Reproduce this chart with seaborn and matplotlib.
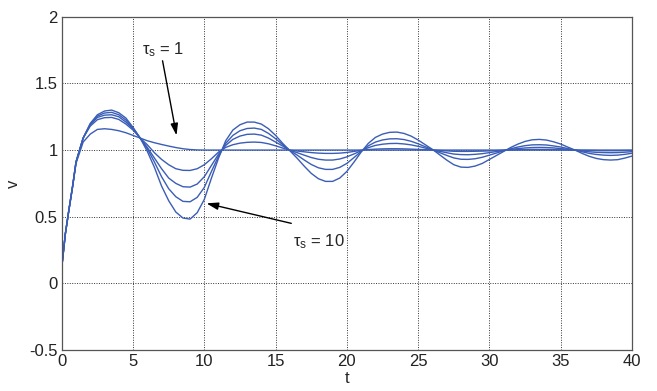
import numpy as np
import pandas as pd
import matplotlib
matplotlib.use("Agg")
import matplotlib.pyplot as plt
from matplotlib.ticker import FuncFormatter
import seaborn as sns

# Sample times
t = np.concatenate([[0.0, 0.25, 0.5, 0.75], np.arange(1.0, 40.01, 0.5)])

# Responses v(t) for the different tau_s values (largest oscillation first)
v_tau10 = [0.12, 0.37, 0.55, 0.72, 0.91, 1.09, 1.20, 1.265, 1.293, 1.30, 1.28, 1.24, 1.17, 1.09,
           0.99, 0.87, 0.73, 0.62, 0.535, 0.49, 0.482, 0.53, 0.63, 0.79, 0.94, 1.07, 1.15, 1.19,
           1.21, 1.21, 1.195, 1.16, 1.11, 1.05, 0.995, 0.94, 0.88, 0.825, 0.785, 0.765, 0.765,
           0.79, 0.84, 0.91, 0.985, 1.05, 1.095, 1.12, 1.133, 1.135, 1.125, 1.105, 1.075, 1.04,
           1.005, 0.965, 0.925, 0.89, 0.872, 0.87, 0.88, 0.90, 0.93, 0.96, 0.99, 1.02, 1.045,
           1.065, 1.077, 1.08, 1.075, 1.062, 1.045, 1.022, 1.0, 0.975, 0.953, 0.937, 0.928,
           0.925, 0.928, 0.94, 0.955]
v_b = [0.12, 0.37, 0.55, 0.72, 0.91, 1.09, 1.195, 1.255, 1.278, 1.283, 1.265, 1.225, 1.165, 1.09,
       1.01, 0.91, 0.80, 0.71, 0.65, 0.615, 0.612, 0.645, 0.72, 0.84, 0.955, 1.05, 1.11, 1.145,
       1.162, 1.165, 1.155, 1.125, 1.085, 1.04, 0.997, 0.963, 0.926, 0.892, 0.867, 0.855, 0.855,
       0.87, 0.90, 0.944, 0.99, 1.032, 1.06, 1.076, 1.084, 1.085, 1.079, 1.066, 1.047, 1.025,
       1.003, 0.981, 0.96, 0.941, 0.931, 0.93, 0.935, 0.946, 0.962, 0.978, 0.995, 1.01, 1.023,
       1.033, 1.039, 1.04, 1.038, 1.031, 1.023, 1.011, 1.0, 0.987, 0.975, 0.967, 0.962, 0.96,
       0.962, 0.968, 0.976]
v_c = [0.12, 0.37, 0.55, 0.72, 0.91, 1.09, 1.19, 1.245, 1.262, 1.265, 1.25, 1.21, 1.16, 1.09,
       1.02, 0.94, 0.86, 0.79, 0.75, 0.725, 0.722, 0.745, 0.80, 0.885, 0.97, 1.035, 1.08, 1.105,
       1.118, 1.12, 1.112, 1.09, 1.06, 1.03, 0.998, 0.981, 0.962, 0.944, 0.931, 0.925, 0.925,
       0.933, 0.949, 0.971, 0.995, 1.018, 1.035, 1.044, 1.049, 1.05, 1.046, 1.039, 1.028, 1.015,
       1.002, 0.991, 0.98, 0.97, 0.966, 0.965, 0.968, 0.973, 0.981, 0.989, 0.997, 1.005, 1.011,
       1.016, 1.019, 1.02, 1.019, 1.016, 1.011, 1.006, 1.0, 0.993, 0.987, 0.983, 0.981, 0.98,
       0.981, 0.984, 0.988]
v_d = [0.12, 0.37, 0.55, 0.72, 0.91, 1.09, 1.18, 1.228, 1.243, 1.245, 1.23, 1.195, 1.15, 1.09,
       1.04, 0.98, 0.93, 0.89, 0.86, 0.848, 0.847, 0.86, 0.89, 0.935, 0.985, 1.02, 1.04, 1.052,
       1.058, 1.06, 1.057, 1.047, 1.032, 1.015, 0.999, 0.993, 0.987, 0.981, 0.977, 0.975, 0.975,
       0.977, 0.982, 0.99, 0.998, 1.004, 1.007, 1.009, 1.01, 1.01, 1.009, 1.007, 1.005, 1.003,
       1.0, 0.997, 0.994, 0.991, 0.99, 0.99, 0.991, 0.992, 0.994, 0.996, 0.999, 1.001, 1.003,
       1.004, 1.005, 1.005, 1.005, 1.004, 1.003, 1.001, 1.0, 0.998, 0.997, 0.996, 0.995, 0.995,
       0.995, 0.996, 0.997]
v_tau1 = [0.12, 0.37, 0.55, 0.72, 0.90, 1.06, 1.12, 1.155, 1.16, 1.155, 1.145, 1.13, 1.11, 1.09,
          1.07, 1.055, 1.042, 1.03, 1.019, 1.01, 1.004, 1.001] + [1.0] * 61

series = {"tau10": v_tau10, "b": v_b, "c": v_c, "d": v_d, "tau1": v_tau1}

x_ticks = [0, 5, 10, 15, 20, 25, 30, 35, 40]
y_ticks = [-0.5, 0, 0.5, 1, 1.5, 2]

df = pd.concat(
    [pd.DataFrame({"t": t, "v": vals, "run": name}) for name, vals in series.items()],
    ignore_index=True,
)

sns.set_style("white")
plt.rcParams["font.family"] = ["Liberation Sans", "DejaVu Sans"]
plt.rcParams["axes.unicode_minus"] = False
plt.rcParams["mathtext.fontset"] = "custom"
plt.rcParams["mathtext.rm"] = "Liberation Sans"
plt.rcParams["mathtext.it"] = "Liberation Sans:italic"

fig = plt.figure(figsize=(6.57, 3.91), dpi=100)
ax = fig.add_axes([0.094, 0.105, 0.868, 0.852])

line_color = "#3a5db6"
sns.lineplot(data=df, x="t", y="v", hue="run", palette=[line_color] * len(series),
             legend=False, ax=ax, linewidth=1.0, sort=False, estimator=None)

ax.set_xlim(0, 40)
ax.set_ylim(-0.5, 2)
ax.set_xticks(x_ticks)
ax.set_yticks(y_ticks)
fmt = FuncFormatter(lambda val, pos: f"{val:g}")
ax.xaxis.set_major_formatter(fmt)
ax.yaxis.set_major_formatter(fmt)
ax.tick_params(direction="in", length=4, labelsize=12, colors="#222222", width=0.8, pad=3)
ax.grid(True, color="#333333", linestyle=(0, (1, 1.5)), linewidth=0.7)
for sp in ax.spines.values():
    sp.set_color("#555555")
    sp.set_linewidth(0.9)

ax.set_xlabel("t", fontsize=12, labelpad=1)
ax.set_ylabel("v", fontsize=12, labelpad=6)

arrow = dict(arrowstyle="-|>,head_length=0.7,head_width=0.22", color="black", lw=1.0,
             shrinkA=0, shrinkB=0)
ax.annotate("", xy=(8.05, 1.11), xytext=(7.07, 1.67), arrowprops=arrow)
ax.text(7.1, 1.75, r"τ$_\mathrm{s}$ = 1", fontsize=12, ha="center", va="center")
ax.annotate("", xy=(10.15, 0.60), xytext=(16.1, 0.45), arrowprops=arrow)
ax.text(16.2, 0.31, r"τ$_\mathrm{s}$ = 10", fontsize=12, ha="left", va="center")

fig.savefig("out.png", dpi=100, facecolor="white")
